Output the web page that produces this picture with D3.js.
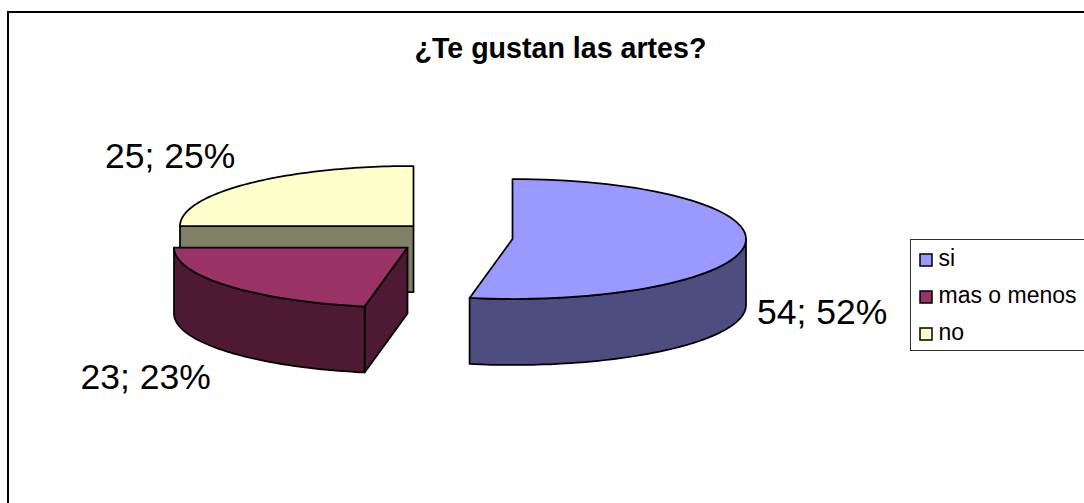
<!DOCTYPE html>
<html><head><meta charset="utf-8">
<script src="https://cdn.jsdelivr.net/npm/d3@7"></script>
<style>html,body{margin:0;padding:0;background:#fff}svg{display:block}text{font-family:"Liberation Sans",Arial,sans-serif;fill:#000}</style>
</head><body><svg id="c" width="1084" height="503"></svg>
<script>
const categories = ["si", "mas o menos", "no"];
const values = [54, 23, 25];
const percentLabels = ["52%", "23%", "25%"];
const topColors = ["#9999FF", "#993366", "#FFFFCC"];
const wallColors = ["#4D4D80", "#4D1933", "#808066"];
const titleText = "¿Te gustan las artes?";

const W = 1084, H = 503;
const svg = d3.select("#c");
svg.append("path").attr("d", `M8,${H}V12H${W}`).attr("fill", "none").attr("stroke", "#000").attr("stroke-width", 2);

svg.append("text").attr("x", 414.5).attr("y", 58)
  .attr("font-size", 28.6).attr("font-weight", "bold").text(titleText);

const rx = 233.5, ry = 60, depth = 66;
const centers = [[512.5, 239], [407.5, 247.5], [413.5, 226]];
const labelPos = [[757, 324], [80.5, 388.5], [105, 168]];

const arcs = d3.pie().sort(null).value(d => d)(values);
const line = d3.line();
const pt = (c, a, dy = 0) => [c[0] + rx * Math.sin(a), c[1] - ry * Math.cos(a) + dy];
const samples = (a0, a1) => d3.range(0, 73).map(i => a0 + (a1 - a0) * i / 72);
const HALF = Math.PI / 2;

function face(d, fill) {
  svg.append("path").attr("d", d).attr("fill", fill).attr("stroke", "#000")
     .attr("stroke-width", 1.75).attr("stroke-linejoin", "round");
}

// no (drawn first, it sits behind the others)
{
  const i = 2, c = centers[i], a = arcs[i];
  const left = [c[0] - rx, c[1]];
  face(line([left, [c[0], c[1]], [c[0], c[1] + depth], [left[0], c[1] + depth]]) + "Z", wallColors[i]);
  face(line([c, left, ...samples(a.startAngle, a.endAngle).map(t => pt(c, t))]) + "Z", topColors[i]);
}
// mas o menos
{
  const i = 1, c = centers[i], a = arcs[i];
  const end = Math.min(a.endAngle, 3 * HALF);
  const s = samples(a.startAngle, end);
  const p0 = pt(c, a.startAngle);
  face(line([c, p0, [p0[0], p0[1] + depth], [c[0], c[1] + depth]]) + "Z", wallColors[i]);
  face(line([...s.map(t => pt(c, t)), ...s.slice().reverse().map(t => pt(c, t, depth))]) + "Z", wallColors[i]);
  face(line([c, ...s.map(t => pt(c, t))]) + "Z", topColors[i]);
}
// si
{
  const i = 0, c = centers[i], a = arcs[i];
  const s = samples(HALF, a.endAngle);
  face(line([...s.map(t => pt(c, t)), ...s.slice().reverse().map(t => pt(c, t, depth))]) + "Z", wallColors[i]);
  face(line([c, ...samples(a.startAngle, a.endAngle).map(t => pt(c, t))]) + "Z", topColors[i]);
}

values.forEach((v, i) => {
  svg.append("text").attr("x", labelPos[i][0]).attr("y", labelPos[i][1])
    .attr("font-size", 35.5).text(`${v}; ${percentLabels[i]}`);
});

// legend
svg.append("rect").attr("x", 910.5).attr("y", 239.5).attr("width", 200).attr("height", 111)
  .attr("fill", "#fff").attr("stroke", "#333").attr("stroke-width", 1);
const yLegend = d3.scalePoint().domain(categories).range([260, 334]);
categories.forEach((n, i) => {
  const y = yLegend(n);
  svg.append("rect").attr("x", 920).attr("y", y - 6).attr("width", 12).attr("height", 12)
    .attr("fill", topColors[i]).attr("stroke", "#000").attr("stroke-width", 1.5);
  svg.append("text").attr("x", 938.5).attr("y", y + 6).attr("font-size", 23).text(n);
});
</script></body></html>
